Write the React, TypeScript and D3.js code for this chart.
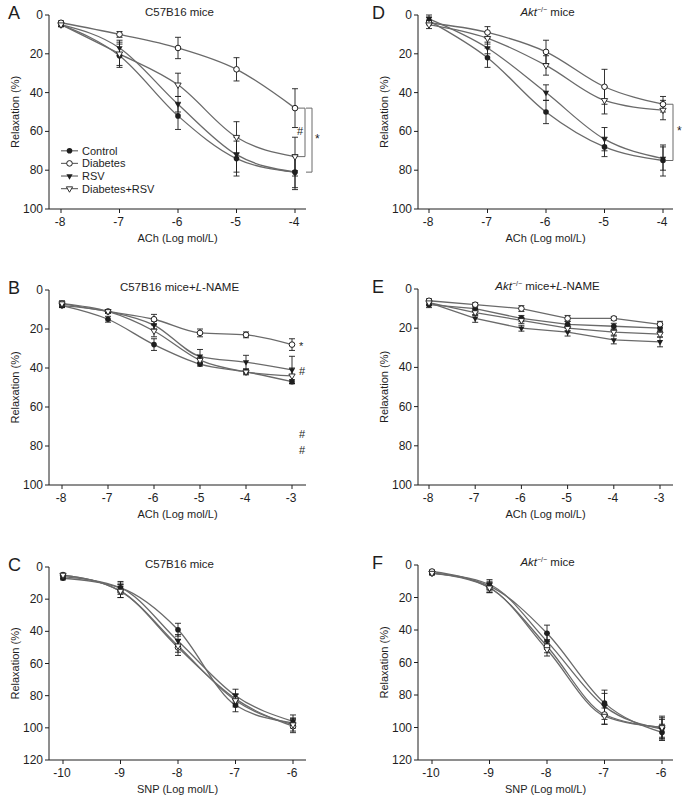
import React from "react";
import * as d3 from "d3";

// doses (log mol/L)
const achDoses = [-8, -7, -6, -5, -4];
const achDosesLN = [-8, -7, -6, -5, -4, -3];
const snpDoses = [-10, -9, -8, -7, -6];
const groups = ["Control", "Diabetes", "RSV", "Diabetes+RSV"];

// relaxation means, order = groups
const aMeans = [
  [5, 21, 52, 74, 81],
  [4, 10, 17, 28, 48],
  [5, 17, 46, 72, 81],
  [5, 20, 36, 63, 73],
];
const aErrs = [
  [1, 6, 7, 9, 9],
  [1, 1.5, 5.5, 6, 10],
  [1, 4, 4, 9, 8],
  [1, 6, 6, 8, 10],
];
const bMeans = [
  [8, 15, 28, 38, 42, 47],
  [7, 11, 15, 22, 23, 28],
  [8, 11, 18, 34, 37, 41],
  [7, 11, 21, 36, 42, 44],
];
const bErrs = [
  [1, 1.5, 3, 1, 1, 1],
  [1.5, 1, 2.5, 2, 1.5, 3],
  [1, 1, 2, 3.5, 3.5, 7],
  [1, 1, 3, 1.5, 1.5, 4],
];
const cMeans = [
  [7, 13, 39, 86, 97],
  [5, 15, 50, 82, 99],
  [6, 13, 46, 80, 96],
  [5, 15, 49, 83, 98],
];
const cErrs = [
  [1, 3, 4, 4, 3],
  [1, 4, 5, 3, 4],
  [1, 4, 4, 4, 4],
  [1, 4, 4, 4, 4],
];
const dMeans = [
  [3, 22, 50, 68, 75],
  [4, 9, 19, 37, 46],
  [2, 17, 40, 64, 74],
  [5, 12, 26, 44, 49],
];
const dErrs = [
  [2, 5, 6, 5, 8],
  [1, 3, 6, 9, 4],
  [2, 3, 4, 6, 6],
  [2, 3, 5, 7, 5],
];
const eMeans = [
  [8, 10, 15, 18, 19, 20],
  [6, 8, 10, 15, 15, 18],
  [7, 15, 20, 22, 26, 27],
  [7, 12, 16, 20, 22, 23],
];
const eErrs = [
  [1.5, 1.5, 1.5, 1.5, 1.5, 1.5],
  [1, 1, 1.5, 1.5, 1, 1.5],
  [1.5, 2, 1.5, 2, 2, 2.5],
  [1, 1.5, 1.5, 1.5, 1.5, 1.5],
];
const fMeans = [
  [5, 13, 42, 85, 103],
  [4, 14, 50, 92, 100],
  [5, 12, 47, 87, 101],
  [5, 14, 52, 93, 100],
];
const fErrs = [
  [1, 3, 5, 8, 5],
  [1, 3, 4, 6, 6],
  [1, 3, 5, 8, 6],
  [1, 3, 4, 5, 7],
];

const relTicks100 = [0, 20, 40, 60, 80, 100];
const relTicks120 = [0, 20, 40, 60, 80, 100, 120];

const FONT = "'Liberation Sans', Arial, sans-serif";
const LINE = "#6a6a6a";
const INK = "#1e1e1e";

const triDown = d3.symbol(d3.symbolTriangle, 17)() as string;

function Marker({ g, x, y }: { g: number; x: number; y: number }) {
  if (g === 0) return <circle cx={x} cy={y} r={2.8} fill={INK} />;
  if (g === 1) return <circle cx={x} cy={y} r={2.8} fill="#fff" stroke={INK} strokeWidth={1} />;
  if (g === 2) return <path d={triDown} transform={`translate(${x},${y}) rotate(180)`} fill={INK} />;
  return (
    <path d={triDown} transform={`translate(${x},${y}) rotate(180)`} fill="#fff" stroke={INK} strokeWidth={0.9} />
  );
}

type PanelProps = {
  letter: string;
  letterX: number;
  title: React.ReactNode;
  axisX: number;
  axisEnd: number;
  xDomain: [number, number];
  xRange: [number, number];
  yDomain: [number, number];
  yRange: [number, number];
  xTicks: number[];
  yTicks: number[];
  xLabel: string;
  doses: number[];
  means: number[][];
  errs: number[][];
  curve: d3.CurveFactory;
  extra?: (x: d3.ScaleLinear<number, number>, y: d3.ScaleLinear<number, number>) => React.ReactNode;
};

function Panel(p: PanelProps) {
  const x = d3.scaleLinear().domain(p.xDomain).range(p.xRange);
  const y = d3.scaleLinear().domain(p.yDomain).range(p.yRange);
  const [top, bottom] = p.yRange;
  const line = d3
    .line<number>()
    .x((_, i) => x(p.doses[i]))
    .y((v) => y(v))
    .curve(p.curve);
  const midX = (p.axisX + p.axisEnd) / 2;
  return (
    <g fontFamily={FONT} fill={INK}>
      <text x={p.letterX} y={top + 4} fontSize={18}>
        {p.letter}
      </text>
      <text x={midX + 2} y={top + 1} fontSize={11.5} textAnchor="middle">
        {p.title}
      </text>
      {/* axes */}
      <line x1={p.axisX} x2={p.axisX} y1={top} y2={bottom} stroke={INK} strokeWidth={1} />
      <line x1={p.axisX} x2={p.axisEnd} y1={bottom} y2={bottom} stroke={INK} strokeWidth={1} />
      {p.yTicks.map((t) => (
        <g key={"y" + t}>
          <line x1={p.axisX - 4} x2={p.axisX} y1={y(t)} y2={y(t)} stroke={INK} />
          <text x={p.axisX - 6} y={y(t) + 4} fontSize={12} textAnchor="end">
            {t}
          </text>
        </g>
      ))}
      {p.xTicks.map((t) => (
        <g key={"x" + t}>
          <line x1={x(t)} x2={x(t)} y1={bottom} y2={bottom + 4} stroke={INK} />
          <text x={x(t) - 1} y={bottom + 17} fontSize={12} textAnchor="middle">
            {t}
          </text>
        </g>
      ))}
      <text x={midX} y={bottom + 33} fontSize={11} textAnchor="middle">
        {p.xLabel}
      </text>
      <text
        transform={`translate(${p.axisX - 30},${(top + bottom) / 2}) rotate(-90)`}
        fontSize={11}
        textAnchor="middle"
      >
        Relaxation (%)
      </text>
      {/* curves */}
      {p.means.map((m, g) => (
        <path key={"l" + g} d={line(m) as string} fill="none" stroke={LINE} strokeWidth={1.3} />
      ))}
      {/* error bars */}
      {p.means.map((m, g) =>
        m.map((v, i) => {
          const cx = x(p.doses[i]);
          const e = p.errs[g][i];
          return (
            <g key={`e${g}-${i}`} stroke={INK} strokeWidth={0.9}>
              <line x1={cx} x2={cx} y1={y(v - e)} y2={y(v + e)} />
              <line x1={cx - 3} x2={cx + 3} y1={y(v - e)} y2={y(v - e)} />
              <line x1={cx - 3} x2={cx + 3} y1={y(v + e)} y2={y(v + e)} />
            </g>
          );
        })
      )}
      {p.means.map((m, g) =>
        m.map((v, i) => <Marker key={`m${g}-${i}`} g={g} x={x(p.doses[i])} y={y(v)} />)
      )}
      {p.extra && p.extra(x, y)}
    </g>
  );
}

function Bracket({ x0, x1, y0, y1 }: { x0: number; x1: number; y0: number; y1: number }) {
  return (
    <path
      d={`M${x0},${y0}H${x1}V${y1}H${x0}`}
      fill="none"
      stroke={LINE}
      strokeWidth={1}
    />
  );
}

const aktTitle = (suffix: React.ReactNode) => (
  <>
    <tspan fontStyle="italic">Akt</tspan>
    <tspan fontSize={7} dy={-4}>
      −/−
    </tspan>
    <tspan dy={4}> mice</tspan>
    {suffix}
  </>
);

const lnameSuffix = (
  <>
    <tspan>+</tspan>
    <tspan fontStyle="italic">L</tspan>
    <tspan>-NAME</tspan>
  </>
);

export default function App() {
  return (
    <svg
      width={685}
      height={797}
      style={{ position: "absolute", left: 0, top: 0, background: "#fff" }}
    >
      <rect width={685} height={797} fill="#fff" />
      <Panel
        letter="A"
        letterX={8}
        title="C57B16 mice"
        axisX={49}
        axisEnd={306}
        xDomain={[-8, -4]}
        xRange={[61, 295]}
        yDomain={[0, 100]}
        yRange={[15, 209]}
        xTicks={achDoses}
        yTicks={relTicks100}
        xLabel="ACh (Log mol/L)"
        doses={achDoses}
        means={aMeans}
        errs={aErrs}
        curve={d3.curveMonotoneX}
        extra={(x, y) => {
          const cx = x(-4);
          return (
            <g>
              <Bracket x0={cx + 3} x1={cx + 10} y0={y(aMeans[1][4])} y1={y(aMeans[3][4])} />
              <Bracket x0={cx + 11} x1={cx + 17} y0={y(aMeans[1][4])} y1={y(aMeans[0][4])} />
              <text x={cx + 2} y={y(62)} fontSize={11} fill={INK}>
                #
              </text>
              <text x={cx + 20} y={y(66)} fontSize={12} fill={INK}>
                *
              </text>
              {groups.map((gname, g) => {
                const ly = y(academicLegendY[g]);
                return (
                  <g key={gname}>
                    <line x1={61} x2={78} y1={ly} y2={ly} stroke={LINE} strokeWidth={1.2} />
                    <Marker g={g} x={69.5} y={ly} />
                    <text x={82} y={ly + 4} fontSize={11} fill={INK}>
                      {gname}
                    </text>
                  </g>
                );
              })}
            </g>
          );
        }}
      />
      <Panel
        letter="B"
        letterX={8}
        title={<>C57B16 mice{lnameSuffix}</>}
        axisX={49}
        axisEnd={306}
        xDomain={[-8, -3]}
        xRange={[62, 292]}
        yDomain={[0, 100]}
        yRange={[290, 485]}
        xTicks={achDosesLN}
        yTicks={relTicks100}
        xLabel="ACh (Log mol/L)"
        doses={achDosesLN}
        means={bMeans}
        errs={bErrs}
        curve={d3.curveMonotoneX}
        extra={(x, y) => {
          const cx = x(-3) + 7;
          return (
            <g fontSize={11} fill={INK}>
              <text x={cx} y={y(bMeans[1][5]) + 5}>*</text>
              <text x={cx} y={y(bMeans[2][5]) + 5}>#</text>
              <text x={cx} y={y(74) + 4}>#</text>
              <text x={cx} y={y(82) + 4}>#</text>
            </g>
          );
        }}
      />
      <Panel
        letter="C"
        letterX={8}
        title="C57B16 mice"
        axisX={49}
        axisEnd={306}
        xDomain={[-10, -6]}
        xRange={[63, 293]}
        yDomain={[0, 120]}
        yRange={[567, 760]}
        xTicks={snpDoses}
        yTicks={relTicks120}
        xLabel="SNP (Log mol/L)"
        doses={snpDoses}
        means={cMeans}
        errs={cErrs}
        curve={d3.curveMonotoneX}
      />
      <Panel
        letter="D"
        letterX={372}
        title={aktTitle(null)}
        axisX={418}
        axisEnd={673}
        xDomain={[-8, -4]}
        xRange={[429, 663]}
        yDomain={[0, 100]}
        yRange={[15, 209]}
        xTicks={achDoses}
        yTicks={relTicks100}
        xLabel="ACh (Log mol/L)"
        doses={achDoses}
        means={dMeans}
        errs={dErrs}
        curve={d3.curveMonotoneX}
        extra={(x, y) => {
          const cx = x(-4);
          return (
            <g>
              <Bracket x0={cx + 3} x1={cx + 10} y0={y(dMeans[1][4])} y1={y(dMeans[0][4])} />
              <text x={cx + 14} y={y(60) + 4} fontSize={12} fill={INK}>
                *
              </text>
            </g>
          );
        }}
      />
      <Panel
        letter="E"
        letterX={372}
        title={aktTitle(lnameSuffix)}
        axisX={418}
        axisEnd={673}
        xDomain={[-8, -3]}
        xRange={[429, 660]}
        yDomain={[0, 100]}
        yRange={[289, 485]}
        xTicks={achDosesLN}
        yTicks={relTicks100}
        xLabel="ACh (Log mol/L)"
        doses={achDosesLN}
        means={eMeans}
        errs={eErrs}
        curve={d3.curveLinear}
      />
      <Panel
        letter="F"
        letterX={372}
        title={aktTitle(null)}
        axisX={418}
        axisEnd={673}
        xDomain={[-10, -6]}
        xRange={[432, 662]}
        yDomain={[0, 120]}
        yRange={[565, 760]}
        xTicks={snpDoses}
        yTicks={relTicks120}
        xLabel="SNP (Log mol/L)"
        doses={snpDoses}
        means={fMeans}
        errs={fErrs}
        curve={d3.curveMonotoneX}
      />
    </svg>
  );
}

// legend rows in panel A, in relaxation units
const academicLegendY = [70, 76.5, 83, 89.5];
